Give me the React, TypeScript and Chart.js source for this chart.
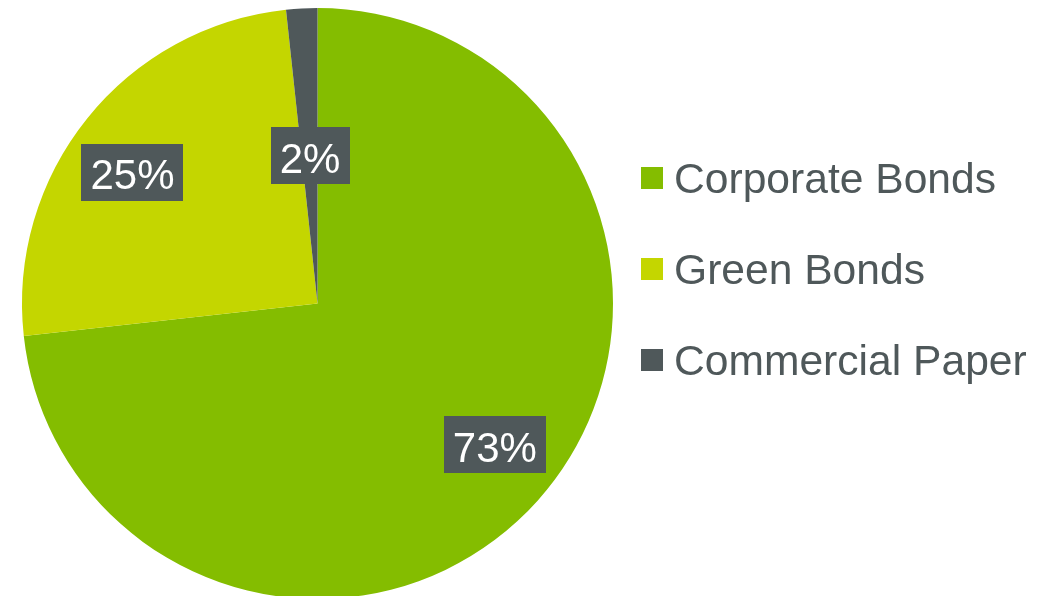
import React, { useEffect, useRef } from "react";
import { Chart, registerables } from "chart.js";

Chart.register(...registerables);

const categories = ["Corporate Bonds", "Green Bonds", "Commercial Paper"];
const shares = [73.25, 25.05, 1.7];
const percentLabels = ["73%", "25%", "2%"];
const sliceColors = ["#84BD00", "#C4D600", "#4F585A"];

const TEXT_GRAY = "#4F585A";
const FONT = '"Liberation Sans", Arial, sans-serif';

const labelPlugin = {
  id: "sliceLabels",
  afterDatasetsDraw(chart: any, _args: any, opts: any) {
    const ctx = chart.ctx;
    const meta = chart.getDatasetMeta(0);
    ctx.save();
    ctx.font = `42px ${FONT}`;
    meta.data.forEach((arc: any, i: number) => {
      const p = arc.getProps(["x", "y", "startAngle", "endAngle", "outerRadius"], true);
      const mid = (p.startAngle + p.endAngle) / 2 + (opts.angleOffset[i] * Math.PI) / 180;
      const r = p.outerRadius * opts.radius[i];
      const cx = p.x + Math.cos(mid) * r;
      const cy = p.y + Math.sin(mid) * r;
      const text = percentLabels[i];
      const w = ctx.measureText(text).width + 18;
      const h = 57;
      ctx.fillStyle = TEXT_GRAY;
      ctx.fillRect(Math.round(cx - w / 2), Math.round(cy - h / 2), Math.round(w), h);
      ctx.fillStyle = "#FFFFFF";
      ctx.textAlign = "center";
      ctx.textBaseline = "alphabetic";
      ctx.fillText(text, cx, cy + 17);
    });
    ctx.restore();
  },
};

const legendPlugin = {
  id: "sideLegend",
  afterDraw(chart: any, _args: any, opts: any) {
    const ctx = chart.ctx;
    ctx.save();
    ctx.font = `42.6px ${FONT}`;
    ctx.textAlign = "left";
    ctx.textBaseline = "alphabetic";
    const labels = chart.data.labels as string[];
    const colors = chart.data.datasets[0].backgroundColor as string[];
    labels.forEach((label, i) => {
      const yc = opts.top + i * opts.spacing;
      ctx.fillStyle = colors[i];
      ctx.fillRect(opts.left, yc - 11, 22, 22);
      ctx.fillStyle = TEXT_GRAY;
      ctx.fillText(label, opts.left + 33, yc + 15);
    });
    ctx.restore();
  },
};

export default function App() {
  const ref = useRef<HTMLCanvasElement | null>(null);

  useEffect(() => {
    document.body.style.margin = "0";
    document.body.style.overflow = "hidden";
    if (!ref.current) return;
    const chart = new Chart(ref.current, {
      type: "pie",
      data: {
        labels: categories,
        datasets: [
          {
            data: shares,
            backgroundColor: sliceColors,
            borderWidth: 0,
          },
        ],
      },
      options: {
        responsive: false,
        animation: false,
        events: [],
        layout: { padding: { left: 22, right: 445, top: 8, bottom: 1 } },
        plugins: {
          legend: { display: false },
          tooltip: { enabled: false },
          sliceLabels: {
            radius: [0.767, 0.768, 0.5],
            angleOffset: [-3.35, -3.4, 0.15],
          },
          sideLegend: { left: 641, top: 178, spacing: 91 },
        } as any,
      },
      plugins: [labelPlugin, legendPlugin],
    });
    return () => chart.destroy();
  }, []);

  return (
    <div style={{ position: "fixed", left: 0, top: 0, width: 1058, height: 600, background: "#FFFFFF" }}>
      <canvas ref={ref} width={1058} height={600} style={{ display: "block" }} />
    </div>
  );
}
